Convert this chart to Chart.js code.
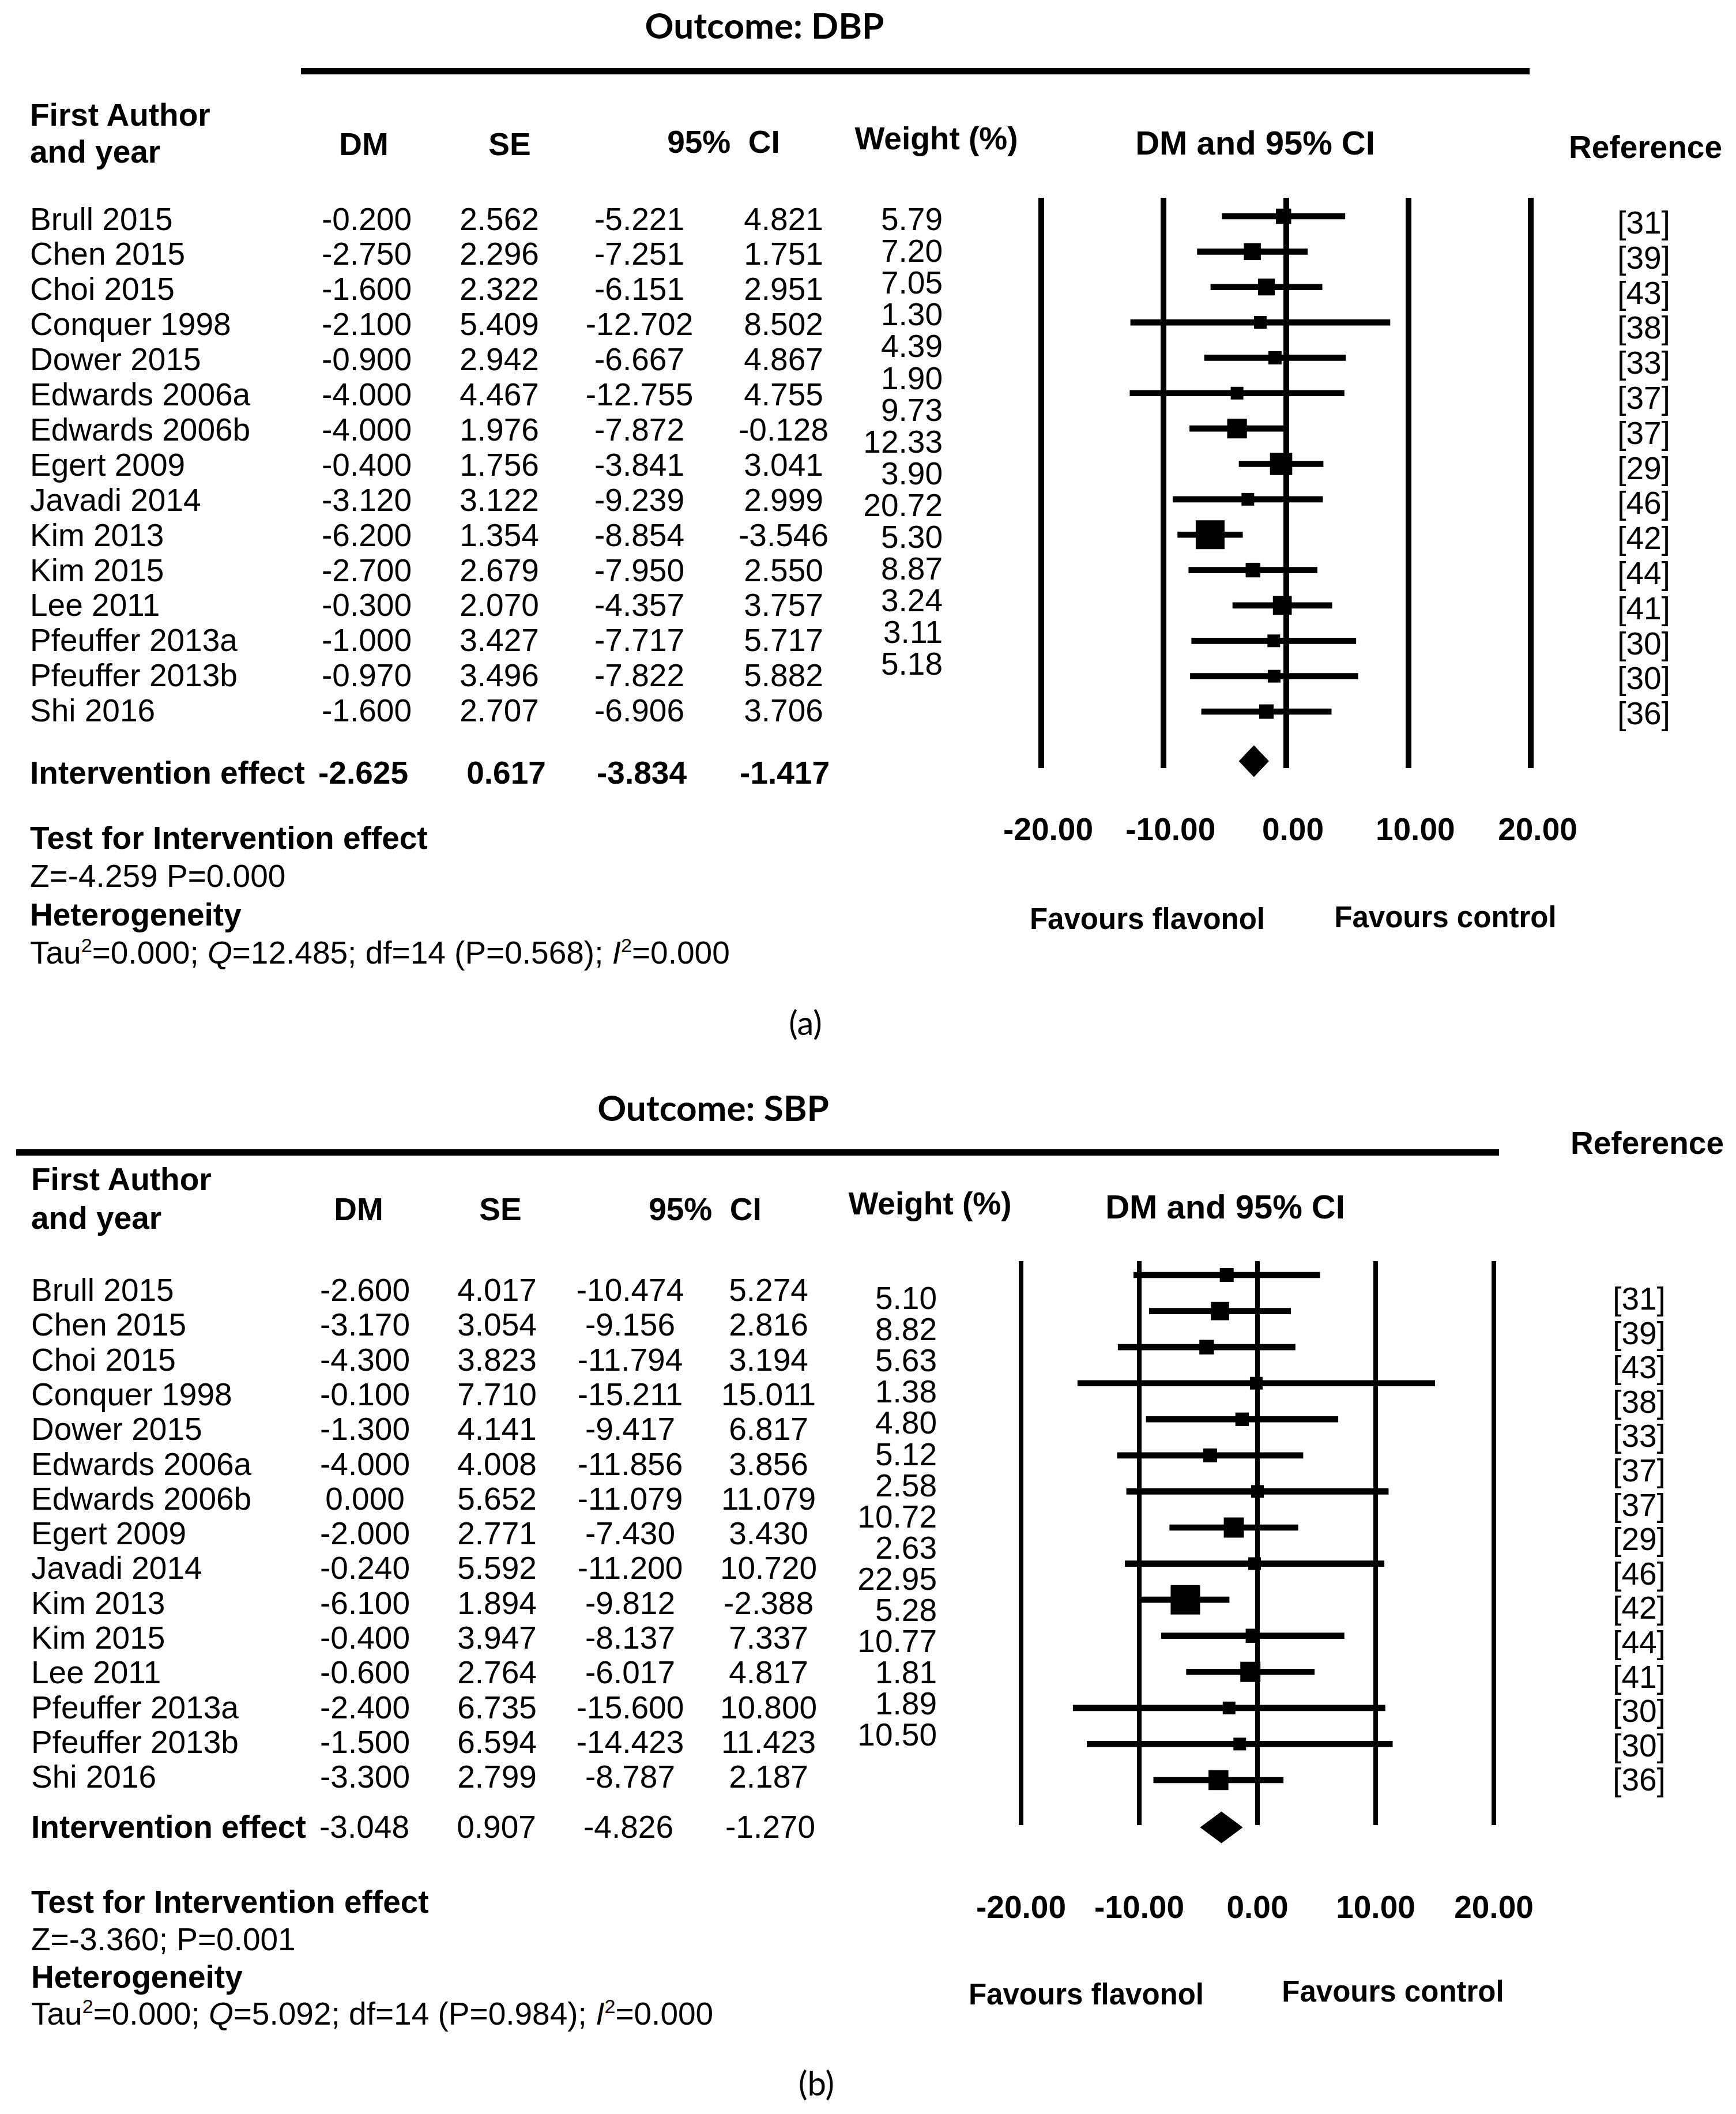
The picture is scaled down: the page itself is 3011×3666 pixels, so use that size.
<!DOCTYPE html>
<html>
<head>
<meta charset="utf-8">
<title>Forest plots: DBP and SBP</title>
<script src="https://cdn.jsdelivr.net/npm/chart.js@4.4.1/dist/chart.umd.min.js"></script>
<style>
  html, body { margin: 0; padding: 0; background: #fff; }
  #page { position: relative; width: 3011px; height: 3666px; overflow: hidden; background: #fff;
          font-family: "Liberation Sans", Arial, sans-serif; color: #000; }
  .t { position: absolute; white-space: nowrap; line-height: 1; }
  .rule { position: absolute; background: #000; }
  canvas { position: absolute; }
  sup { font-size: 0.62em; line-height: 0; vertical-align: 0.6em; }
</style>
</head>
<body>
<div id="page">
  <canvas id="dbpChart"></canvas>
  <canvas id="sbpChart"></canvas>
</div>
<script>
// Studies shared by both outcomes
const studies = ["Brull 2015", "Chen 2015", "Choi 2015", "Conquer 1998", "Dower 2015", "Edwards 2006a",
  "Edwards 2006b", "Egert 2009", "Javadi 2014", "Kim 2013", "Kim 2015", "Lee 2011",
  "Pfeuffer 2013a", "Pfeuffer 2013b", "Shi 2016"];
const references = ["[31]", "[39]", "[43]", "[38]", "[33]", "[37]", "[37]", "[29]", "[46]", "[42]",
  "[44]", "[41]", "[30]", "[30]", "[36]"];
const axisTicks = [-20, -10, 0, 10, 20];

// Outcome: DBP
const dbpMean = [-0.200, -2.750, -1.600, -2.100, -0.900, -4.000, -4.000, -0.400, -3.120, -6.200, -2.700, -0.300, -1.000, -0.970, -1.600];
const dbpSE = [2.562, 2.296, 2.322, 5.409, 2.942, 4.467, 1.976, 1.756, 3.122, 1.354, 2.679, 2.070, 3.427, 3.496, 2.707];
const dbpLower = [-5.221, -7.251, -6.151, -12.702, -6.667, -12.755, -7.872, -3.841, -9.239, -8.854, -7.950, -4.357, -7.717, -7.822, -6.906];
const dbpUpper = [4.821, 1.751, 2.951, 8.502, 4.867, 4.755, -0.128, 3.041, 2.999, -3.546, 2.550, 3.757, 5.717, 5.882, 3.706];
const dbpWeight = [5.79, 7.20, 7.05, 1.30, 4.39, 1.90, 9.73, 12.33, 3.90, 20.72, 5.30, 8.87, 3.24, 3.11, 5.18];
const dbpPooled = [-2.625, 0.617, -3.834, -1.417]; // DM, SE, lower, upper

// Outcome: SBP
const sbpMean = [-2.600, -3.170, -4.300, -0.100, -1.300, -4.000, 0.000, -2.000, -0.240, -6.100, -0.400, -0.600, -2.400, -1.500, -3.300];
const sbpSE = [4.017, 3.054, 3.823, 7.710, 4.141, 4.008, 5.652, 2.771, 5.592, 1.894, 3.947, 2.764, 6.735, 6.594, 2.799];
const sbpLower = [-10.474, -9.156, -11.794, -15.211, -9.417, -11.856, -11.079, -7.430, -11.200, -9.812, -8.137, -6.017, -15.600, -14.423, -8.787];
const sbpUpper = [5.274, 2.816, 3.194, 15.011, 6.817, 3.856, 11.079, 3.430, 10.720, -2.388, 7.337, 4.817, 10.800, 11.423, 2.187];
const sbpWeight = [5.10, 8.82, 5.63, 1.38, 4.80, 5.12, 2.58, 10.72, 2.63, 22.95, 5.28, 10.77, 1.81, 1.89, 10.50];
const sbpPooled = [-3.048, 0.907, -4.826, -1.270];

const dbpStats = ["Z=-4.259 P=0.000", "Tau<sup>2</sup>=0.000; <i>Q</i>=12.485; df=14 (P=0.568); <i>I</i><sup>2</sup>=0.000"];
const sbpStats = ["Z=-3.360; P=0.001", "Tau<sup>2</sup>=0.000; <i>Q</i>=5.092; df=14 (P=0.984); <i>I</i><sup>2</sup>=0.000"];

Chart.defaults.font.family = '"Liberation Sans", Arial, sans-serif';
Chart.defaults.color = '#000';

const page = document.getElementById('page');
const LATO = 'Lato, "Open Sans", sans-serif';

// places one text at (x, y) where y is the middle of the capitals
function put(html, x, y, o = {}) {
  const size = o.size || 55;
  const el = document.createElement('div');
  el.className = 't';
  el.innerHTML = html;
  el.style.fontSize = size + 'px';
  if (o.bold) el.style.fontWeight = 'bold';
  if (o.font) el.style.fontFamily = o.font;
  const shift = o.align === 'center' ? '-50%' : o.align === 'right' ? '-100%' : '0';
  el.style.left = x + 'px';
  el.style.top = (y - (o.mid || 0.49) * size) + 'px';
  el.style.transform = 'translateX(' + shift + ')';
  page.appendChild(el);
}

function rule(x, y, w, h) {
  const el = document.createElement('div');
  el.className = 'rule';
  Object.assign(el.style, { left: x + 'px', top: y + 'px', width: w + 'px', height: h + 'px' });
  page.appendChild(el);
}

const fmt3 = v => v.toFixed(3);

function drawTable(L, mean, se, lower, upper, weight, pooled, stats) {
  put(L.title, L.titleX, L.titleY, { bold: true, size: 62, font: LATO, mid: 0.53, align: 'center' });
  rule(...L.rule);

  put('First Author', L.nameX, L.headY[0], { bold: true });
  put('and year', L.nameX, L.headY[1], { bold: true });
  put('DM', L.head.dm[0], L.head.dm[1], { bold: true, align: 'center' });
  put('SE', L.head.se[0], L.head.se[1], { bold: true, align: 'center' });
  put('95%&nbsp; CI', L.head.ci[0], L.head.ci[1], { bold: true, align: 'center' });
  put('Weight (%)', L.head.w[0], L.head.w[1], { bold: true, align: 'center' });
  put('DM and 95% CI', L.head.plot[0], L.head.plot[1], { bold: true, align: 'center', size: 58 });
  put('Reference', L.head.ref[0], L.head.ref[1], { bold: true, align: 'center' });

  studies.forEach((s, i) => {
    const y = L.rowY0 + L.rowDY * i;
    put(s, L.nameX, y);
    put(fmt3(mean[i]), L.cols[0], y, { align: 'center' });
    put(fmt3(se[i]), L.cols[1], y, { align: 'center' });
    put(fmt3(lower[i]), L.cols[2], y, { align: 'center' });
    put(fmt3(upper[i]), L.cols[3], y, { align: 'center' });
    put(weight[i].toFixed(2), L.wRight, L.wY0 + L.wDY * i, { align: 'right' });
    put(references[i], L.refX, L.refY0 + L.refDY * i, { align: 'center' });
  });

  put('Intervention effect', L.nameX, L.pooledY, { bold: true });
  pooled.forEach((v, k) => put(fmt3(v), L.pooledCols[k], L.pooledY, { align: 'center', bold: L.pooledBold }));

  put('Test for Intervention effect', L.nameX, L.statY[0], { bold: true });
  put(stats[0], L.nameX, L.statY[1]);
  put('Heterogeneity', L.nameX, L.statY[2], { bold: true });
  put(stats[1], L.nameX, L.statY[3]);

  put('Favours flavonol', L.favL[0], L.favL[1], { bold: true, size: 51, align: 'center' });
  put('Favours control', L.favR[0], L.favR[1], { bold: true, size: 51, align: 'center' });
  put(L.fig, L.figX, L.figY, { size: 58, font: LATO, mid: 0.6, align: 'center' });
}

// fills the pooled diamond from its laid-out points, without the chart-area clip of the filler
const diamondFill = {
  id: 'diamondFill',
  afterDatasetsDraw(chart) {
    chart.data.datasets.forEach((ds, i) => {
      if (!ds.diamond) return;
      const pts = chart.getDatasetMeta(i).data;
      const ctx = chart.ctx;
      ctx.save();
      ctx.beginPath();
      pts.forEach((p, k) => (k ? ctx.lineTo(p.x, p.y) : ctx.moveTo(p.x, p.y)));
      ctx.closePath();
      ctx.fillStyle = ds.borderColor;
      ctx.fill();
      ctx.restore();
    });
  }
};

function drawForest(L, mean, lower, upper, weight, pooled) {
  const canvas = document.getElementById(L.canvas);
  const [bx, by, bw, bh] = L.box;
  canvas.width = bw; canvas.height = bh;
  Object.assign(canvas.style, { left: bx + 'px', top: by + 'px', width: bw + 'px', height: bh + 'px' });

  const wMax = Math.max(...weight);
  const side = w => Math.max(L.minSide, L.maxSide * Math.sqrt(w / wMax));
  const d = L.diamondRow, h = L.diamondHalf;

  new Chart(canvas, {
    type: 'scatter',
    plugins: [diamondFill],
    data: {
      datasets: [
        {
          // confidence intervals as thin floating bars
          type: 'bar',
          indexAxis: 'y',
          data: lower.map((lo, i) => ({ x: [lo, upper[i]], y: i })),
          backgroundColor: '#000',
          borderWidth: 0,
          barThickness: L.whisker,
          grouped: false,
          order: 3
        },
        {
          type: 'scatter',
          data: mean.map((v, i) => ({ x: v, y: i })),
          pointStyle: 'rect',
          pointRadius: weight.map(w => side(w) / Math.SQRT2),
          pointBackgroundColor: '#000',
          pointBorderWidth: 0,
          order: 2
        },
        {
          // pooled estimate diamond spanning its CI
          type: 'line',
          diamond: true,
          data: [
            { x: pooled[2], y: d }, { x: pooled[0], y: d - h },
            { x: pooled[3], y: d }, { x: pooled[0], y: d + h }, { x: pooled[2], y: d }
          ],
          showLine: true,
          fill: false,
          borderColor: '#000',
          borderWidth: 1,
          pointRadius: 0,
          tension: 0,
          clip: false,
          order: 1
        }
      ]
    },
    options: {
      responsive: false,
      maintainAspectRatio: false,
      animation: false,
      events: [],
      layout: { padding: L.pad },
      plugins: { legend: { display: false }, tooltip: { enabled: false } },
      scales: {
        x: {
          type: 'linear',
          position: 'bottom',
          offset: false,
          min: axisTicks[0],
          max: axisTicks[axisTicks.length - 1],
          afterFit: s => { s.height = L.axisH; },
          afterBuildTicks: s => { s.ticks = axisTicks.map(v => ({ value: v })); },
          grid: { color: '#000', lineWidth: L.gridW, drawTicks: false, offset: false },
          border: { display: false },
          ticks: {
            padding: L.tickPad,
            labelOffset: L.labelOffset,
            color: '#000',
            maxRotation: 0,
            autoSkip: false,
            font: { size: 55, weight: 'bold' },
            callback: v => Number(v).toFixed(2)
          }
        },
        y: {
          type: 'linear', display: false, reverse: true, offset: false,
          grid: { offset: false }, min: L.yMin, max: L.yMax
        }
      }
    }
  });
}

const dbpLayout = {
  title: 'Outcome: DBP', titleX: 1326, titleY: 45, rule: [522, 118, 2131, 11],
  nameX: 52, headY: [199, 263],
  head: { dm: [631, 250], se: [884, 250], ci: [1255, 246], w: [1624, 240], plot: [2177, 247], ref: [2854, 255] },
  rowY0: 379.5, rowDY: 60.9, cols: [636, 866, 1109, 1359],
  wRight: 1635, wY0: 380, wDY: 55.1,
  refX: 2851, refY0: 386, refDY: 60.8,
  pooledY: 1340, pooledCols: [630, 878, 1113, 1361], pooledBold: true,
  statY: [1453, 1519, 1586, 1652],
  favL: [1990, 1593], favR: [2507, 1590], fig: '(a)', figX: 1397, figY: 1779,
  canvas: 'dbpChart', box: [1636, 300, 1214, 1250],
  pad: { left: 170, right: 195, top: 43, bottom: 18 }, axisH: 200, tickPad: 77, labelOffset: 12, gridW: 10,
  yMin: -0.5215, yMax: 15.597, diamondRow: 15.40, diamondHalf: 0.44,
  whisker: 10, maxSide: 50, minSide: 22
};

const sbpLayout = {
  title: 'Outcome: SBP', titleX: 1237, titleY: 1922, rule: [28, 1993, 2572, 11],
  nameX: 54, headY: [2045, 2112],
  head: { dm: [622, 2097], se: [868, 2097], ci: [1223, 2097], w: [1613, 2087], plot: [2125, 2092], ref: [2857, 1982] },
  rowY0: 2237, rowDY: 60.3, cols: [633, 862, 1093, 1333],
  wRight: 1625, wY0: 2251, wDY: 54.1,
  refX: 2843, refY0: 2252, refDY: 59.6,
  pooledY: 3168, pooledCols: [632, 861, 1090, 1336], pooledBold: false,
  statY: [3298, 3363, 3428, 3492],
  favL: [1884, 3458], favR: [2416, 3453], fig: '(b)', figX: 1416, figY: 3618,
  canvas: 'sbpChart', box: [1561, 2150, 1289, 1300],
  pad: { left: 210, right: 259, top: 37, bottom: 45 }, axisH: 240, tickPad: 113, labelOffset: 0, gridW: 8,
  yMin: -0.3836, yMax: 15.247, diamondRow: 15.31, diamondHalf: 0.4315,
  whisker: 10, maxSide: 51, minSide: 22
};

drawTable(dbpLayout, dbpMean, dbpSE, dbpLower, dbpUpper, dbpWeight, dbpPooled, dbpStats);
drawForest(dbpLayout, dbpMean, dbpLower, dbpUpper, dbpWeight, dbpPooled);
drawTable(sbpLayout, sbpMean, sbpSE, sbpLower, sbpUpper, sbpWeight, sbpPooled, sbpStats);
drawForest(sbpLayout, sbpMean, sbpLower, sbpUpper, sbpWeight, sbpPooled);
</script>
</body>
</html>
